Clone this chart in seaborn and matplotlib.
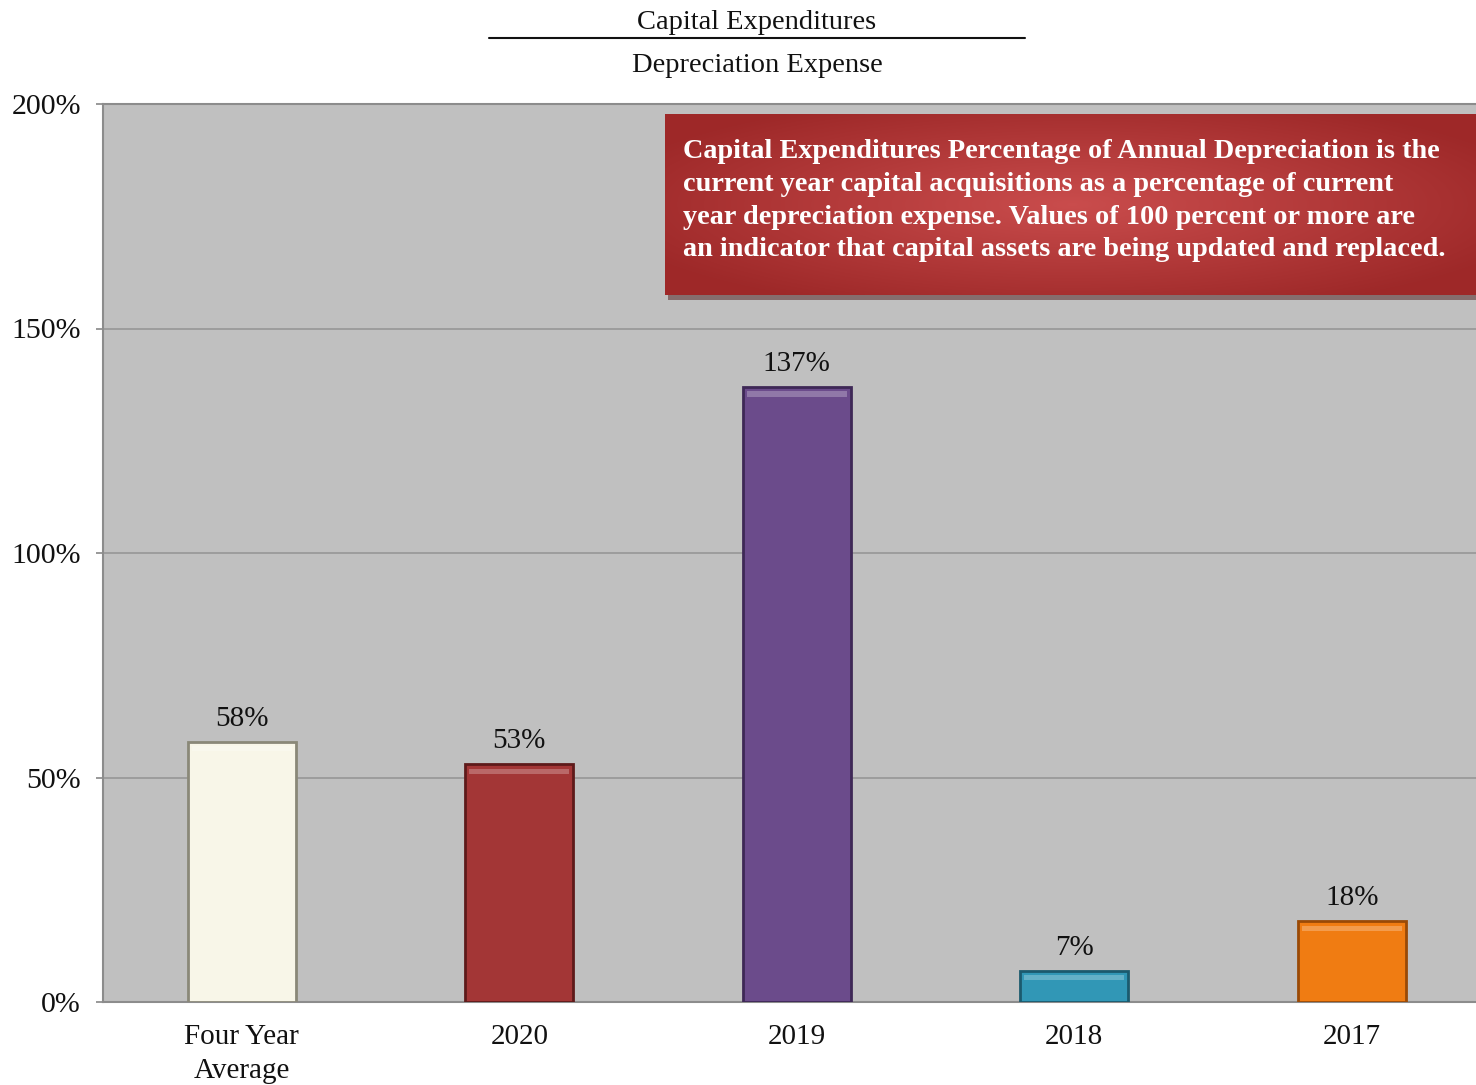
import numpy as np
import pandas as pd
import matplotlib
matplotlib.use("Agg")
import matplotlib.pyplot as plt
import seaborn as sns
from matplotlib.patches import Rectangle

# Data
categories = ["Four Year\nAverage", "2020", "2019", "2018", "2017"]
values = [58, 53, 137, 7, 18]
bar_colors = ["#f8f6e8", "#a33636", "#6b4b8b", "#3197b6", "#f07c12"]
edge_colors = ["#8a8878", "#5e1a1a", "#3e2856", "#1b5a6e", "#9a4a06"]
y_ticks = [0, 50, 100, 150, 200]
y_tick_labels = [f"{t}%" for t in y_ticks]
title_top = "Capital Expenditures"
title_bottom = "Depreciation Expense"
note_lines = [
    "Capital Expenditures Percentage of Annual Depreciation is the",
    "current year capital acquisitions as a percentage of current",
    "year depreciation expense. Values of 100 percent or more are",
    "an indicator that capital assets are being updated and replaced.",
]

sns.set_theme(style="white")
plt.rcParams["font.family"] = ["Liberation Serif", "DejaVu Serif"]

W, H = 1476, 1085
fig = plt.figure(figsize=(W / 100, H / 100), dpi=100)
fig.patch.set_facecolor("white")

# Axes: left edge at x=103, spans five category slots of ~277.5px
left, top, bottom = 103, 104, 1002
slot = 277.5
ax = fig.add_axes([left / W, 1 - bottom / H, 5 * slot / W, (bottom - top) / H])
ax.set_facecolor("#c0c0c0")

df = pd.DataFrame({"category": categories, "value": values})
sns.barplot(data=df, x="category", y="value", hue="category",
            palette=bar_colors, width=0.39, legend=False, ax=ax,
            saturation=1, zorder=3)

for patch, ec in zip(ax.patches, edge_colors):
    patch.set_edgecolor(ec)
    patch.set_linewidth(2.0)
    # top highlight strip for a bevelled look
    x0, w = patch.get_x(), patch.get_width()
    h = patch.get_height()
    ax.add_patch(Rectangle((x0 + w * 0.04, h - min(2.2, h * 0.3)), w * 0.92,
                           min(1.2, h * 0.15), facecolor="white",
                           alpha=0.25, lw=0, zorder=4))

for i, v in enumerate(values):
    ax.text(i, v + 2.2, f"{v}%", ha="center", va="bottom", fontsize=21,
            color="#111111", zorder=5)

ax.set_ylim(0, 200)
ax.set_xlim(-0.5, 4.5)
ax.set_yticks(y_ticks)
ax.set_yticklabels(y_tick_labels, fontsize=21.5, color="#111111")
ax.set_xticks(range(len(categories)))
ax.set_xticklabels(categories, fontsize=21, color="#111111", linespacing=1.4)
ax.set_xticks(np.arange(-0.5, 5.0, 1.0), minor=True)
ax.tick_params(axis="x", which="major", length=0, pad=16)
ax.tick_params(axis="x", which="minor", length=5, color="#888888", width=1.2,
               direction="out")
ax.tick_params(axis="y", length=5, color="#888888", width=1.2, pad=11,
               direction="out", left=True)
ax.set_xlabel("")
ax.set_ylabel("")

ax.grid(axis="y", color="#9a9a9a", linewidth=1.3, zorder=1)
ax.set_axisbelow(True)
for name in ["left", "bottom", "top"]:
    ax.spines[name].set_visible(True)
    ax.spines[name].set_color("#8c8c8c")
    ax.spines[name].set_linewidth(1.5)
ax.spines["right"].set_visible(False)

# Title as a fraction
fig.text(757 / W, 1 - 22.5 / H, title_top, ha="center", va="center",
         fontsize=20.5, color="#111111")
fig.add_artist(plt.Line2D([489 / W, 1025 / W], [1 - 38 / H, 1 - 38 / H],
                          color="#111111", linewidth=1.5))
fig.text(757 / W, 1 - 65 / H, title_bottom, ha="center", va="center",
         fontsize=20.5, color="#111111")

# Explanatory note box with a soft radial gradient and shadow
bx0, bx1, by0, by1 = 665, 1480, 114, 295
shadow = fig.add_axes([(bx0 + 3) / W, 1 - (by1 + 5) / H, (bx1 - bx0) / W,
                       (by1 - by0) / H])
shadow.set_facecolor("#6e4a4a")
shadow.set_xticks([])
shadow.set_yticks([])
for s in shadow.spines.values():
    s.set_visible(False)
shadow.patch.set_alpha(0.7)

box = fig.add_axes([bx0 / W, 1 - by1 / H, (bx1 - bx0) / W, (by1 - by0) / H])
gx = np.linspace(-1, 1, 400)
gy = np.linspace(-1, 1, 120)
GX, GY = np.meshgrid(gx, gy)
r = np.clip(np.sqrt((GX * 0.85) ** 2 + (GY * 0.8) ** 2), 0, 1)
inner = np.array([0.79, 0.30, 0.30])
outer = np.array([0.62, 0.16, 0.16])
img = inner[None, None, :] * (1 - r[..., None]) + outer[None, None, :] * r[..., None]
box.imshow(img, aspect="auto", extent=[0, 1, 0, 1], interpolation="bilinear")
box.set_xlim(0, 1)
box.set_ylim(0, 1)
box.axis("off")

for k, line in enumerate(note_lines):
    fig.text(683 / W, 1 - (152 + 32.5 * k) / H, line, ha="left", va="center",
             fontsize=20.3, fontweight="bold", color="white")

fig.savefig("out.png", dpi=100, facecolor="white")
